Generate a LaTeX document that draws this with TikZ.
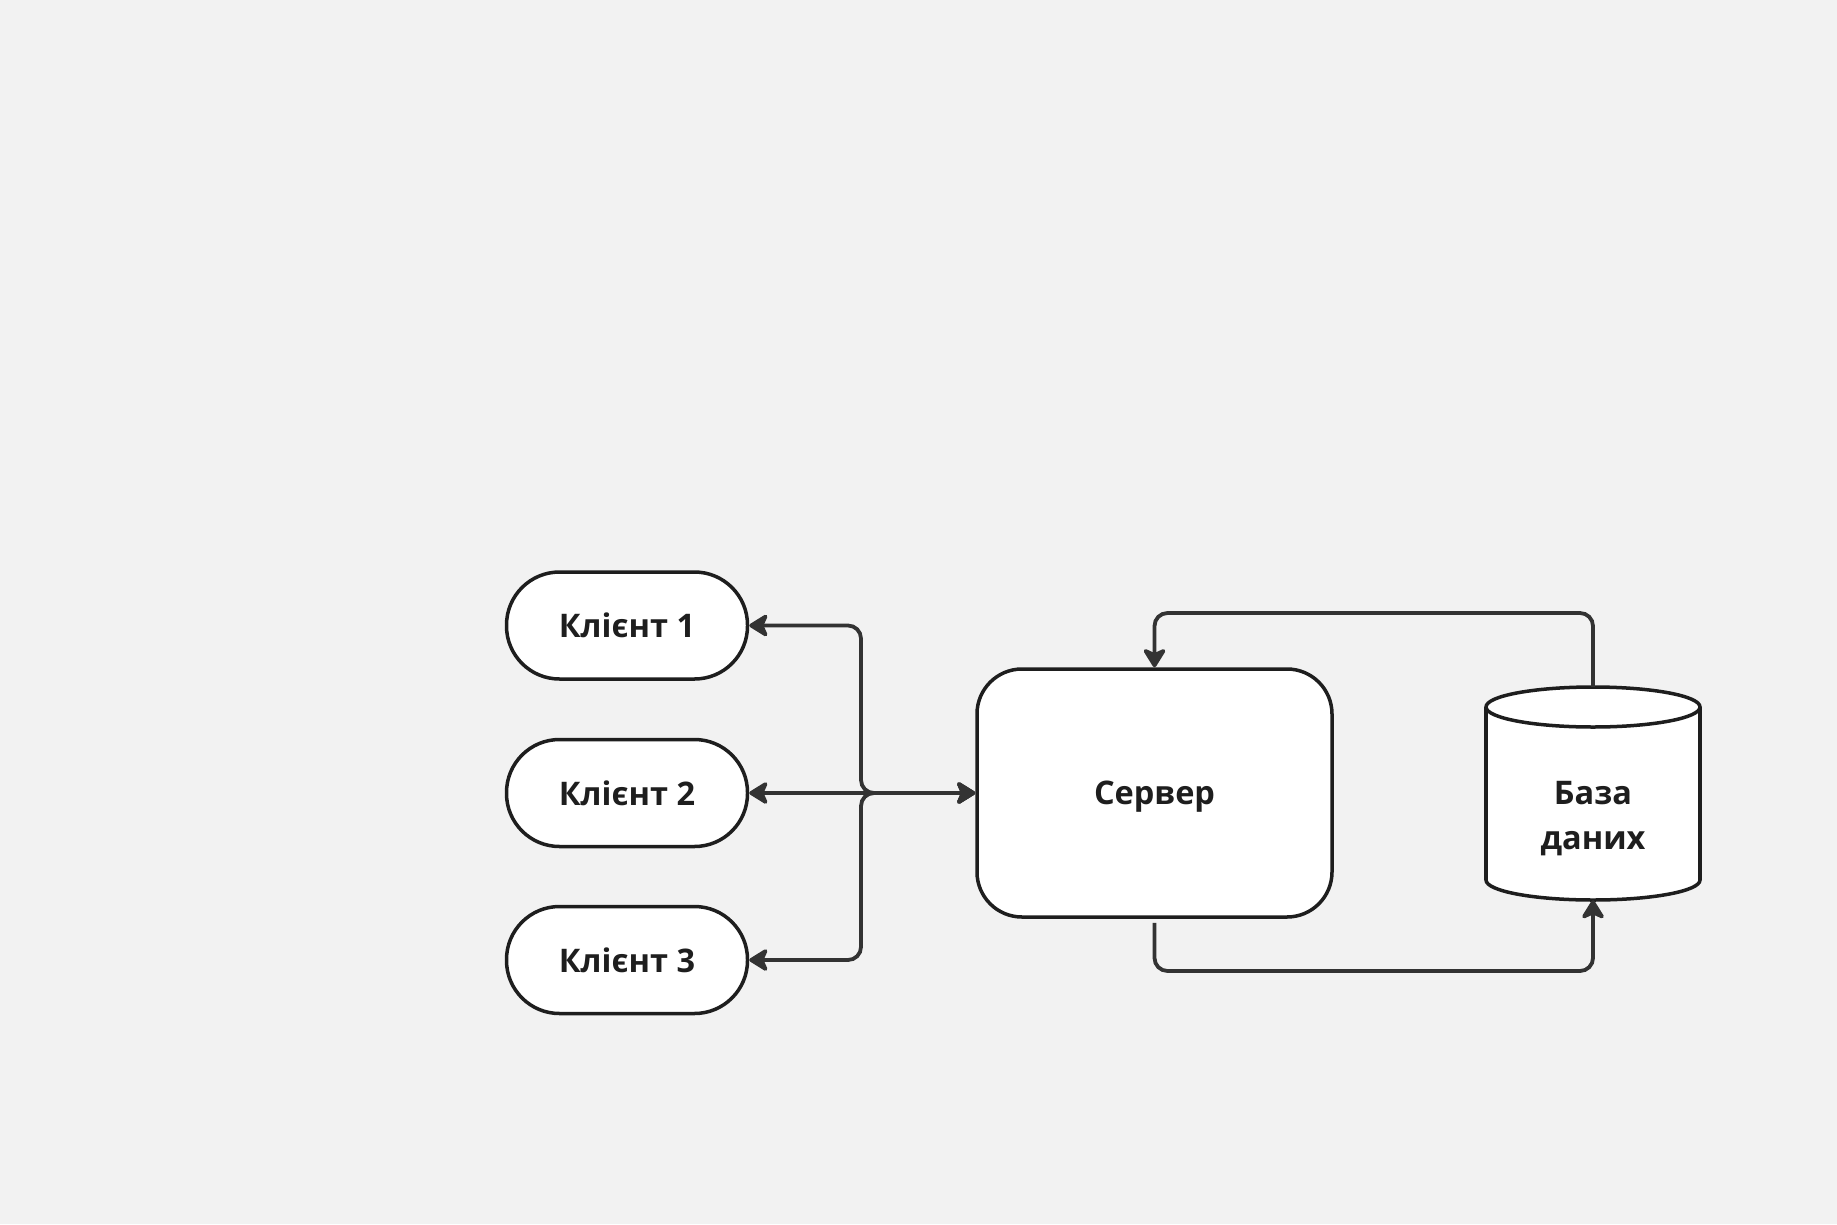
\documentclass[tikz,border=0pt]{standalone}
\usepackage{fontspec}
\setmainfont{Open Sans}
\usetikzlibrary{arrows.meta,calc}
\definecolor{bg}{HTML}{F2F2F2}
\definecolor{edge}{HTML}{1E1E1E}
\definecolor{conn}{HTML}{333333}
\tikzset{
  lbl/.style={font=\fontsize{32.5}{45}\selectfont\bfseries, text=edge},
  client/.style={lbl, draw=edge, fill=white, line width=3.5pt, rounded corners=53pt,
    minimum width=241pt, minimum height=107pt, inner sep=0pt, text depth=0pt},
  server/.style={lbl, draw=edge, fill=white, line width=3.5pt, rounded corners=45pt,
    minimum width=355pt, minimum height=248pt, inner sep=0pt, text depth=0pt},
  dbline/.style={draw=edge, line width=3.5pt},
  conn/.style={draw=conn, line width=3.8pt, rounded corners=13pt},
  arr/.tip={Stealth[length=22pt 0 0, width=27pt 0 0, inset=6pt, round]},
}
\begin{document}
\begin{tikzpicture}[x=1pt, y=-1pt]
\fill[bg] (0,0) rectangle (1837,1224);
\useasboundingbox (0,0) rectangle (1837,1224);

% clients
\node[client] (c1) at (627,625.5) {Клієнт 1};
\node[client] (c2) at (627,793) {Клієнт 2};
\node[client] (c3) at (627,960) {Клієнт 3};

% server
\node[server] (srv) at (1154.5,793) {Сервер};

% database cylinder
\node[minimum width=214pt, minimum height=213pt, inner sep=0pt] (db) at (1593,793.5) {};
\fill[white] (1486,707) rectangle (1700,880);
\fill[white] (1593,880) ellipse [x radius=107, y radius=20];
\begin{scope}
  \clip (1470,880) rectangle (1720,930);
  \draw[dbline] (1593,880) ellipse [x radius=107, y radius=20];
\end{scope}
\draw[dbline] (1486,707) -- (1486,880);
\draw[dbline] (1700,707) -- (1700,880);
\draw[dbline, fill=white] (1593,707) ellipse [x radius=107, y radius=20];
\node[lbl, align=center] (dbt) at (1593,818.5) {База\\даних};

% connectors clients <-> server
\coordinate (j) at (861,793);
\draw[conn, {arr}-{arr}] (c1.east) -| (j) -- (srv.west);
\draw[conn, {arr}-{arr}] (c2.east) -- (srv.west);
\draw[conn, {arr}-{arr}] (c3.east) -| (j) -- (srv.west);

% db -> server
\coordinate (t) at (1154.5,613);
\draw[conn, -{arr}] (db.north) |- (t) -- (srv.north);

% server -> db
\coordinate (b) at (1593,971);
\draw[conn, -{arr}] ([yshift=-4pt]srv.south) |- (b) -- (db.south);
\end{tikzpicture}
\end{document}
